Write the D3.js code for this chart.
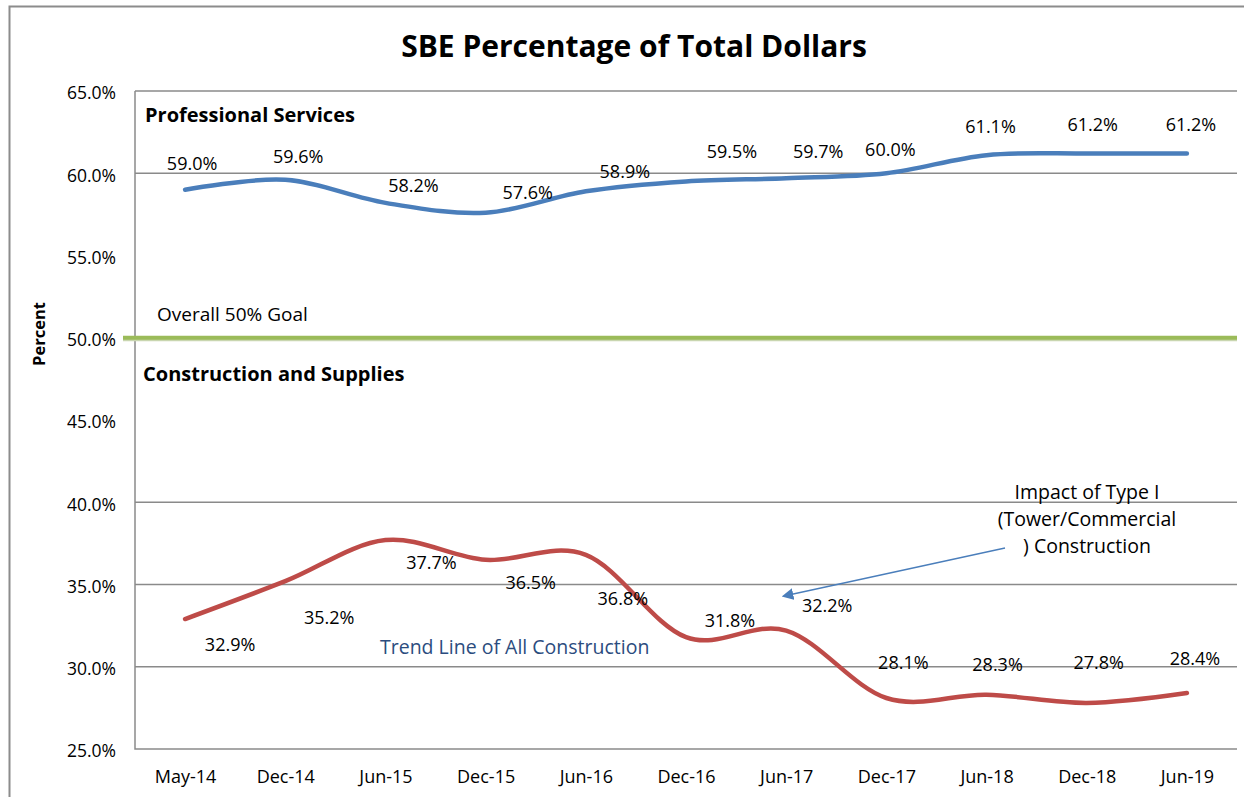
<!DOCTYPE html>
<html>
<head>
<meta charset="utf-8">
<script src="https://cdn.jsdelivr.net/npm/d3@7"></script>
<style>
  body { margin: 0; background: white; }
  text { font-family: "Open Sans", sans-serif; fill: #000; }
</style>
</head>
<body>
<div id="my_dataviz"></div>
<script>
// data
const months = ["May-14", "Dec-14", "Jun-15", "Dec-15", "Jun-16", "Dec-16", "Jun-17", "Dec-17", "Jun-18", "Dec-18", "Jun-19"]
const professional = [59.0, 59.6, 58.2, 57.6, 58.9, 59.5, 59.7, 60.0, 61.1, 61.2, 61.2]
const construction = [32.9, 35.2, 37.7, 36.5, 36.8, 31.8, 32.2, 28.1, 28.3, 27.8, 28.4]
const yTicks = [25, 30, 35, 40, 45, 50, 55, 60, 65]
const gridValues = [30, 35, 40, 60, 65]
const goal = 50

// label nudges (dx, dy) relative to each point, as placed in the original
const profLabelShift = [[7, -27], [13, -24], [28, -18], [42, -21], [39, -21], [46, -31], [32, -27], [4, -25], [4, -29], [6, -30], [4, -30]]
const consLabelShift = [[45, 25], [44, 35], [46, 22], [45, 22], [37, 43], [44, -17], [41, -26], [17, -36], [11, -31], [12, -41], [8, -35]]

// set the dimensions and margins of the graph
const width = 1254
const height = 797
const plot = { left: 135, right: 1237, top: 91, bottom: 749 }
const nudge = 2.5 // text sits a touch lower than the font's middle line

const svg = d3.select("#my_dataviz")
  .append("svg")
    .attr("width", width)
    .attr("height", height)

// outer chart frame (left and top edges are visible in the crop)
svg.append("path")
  .attr("d", `M9.5,${height} V6.5 H1244`)
  .attr("fill", "none")
  .attr("stroke", "#8c8c8c")
  .attr("stroke-width", 2)

const x = d3.scalePoint()
  .domain(months)
  .range([plot.left, plot.right])
  .padding(0.5)

const y = d3.scaleLinear()
  .domain([25, 65])
  .range([plot.bottom, plot.top])

// gridlines
svg.append("g")
  .selectAll("line")
  .data(gridValues)
  .join("line")
    .attr("x1", plot.left)
    .attr("x2", plot.right)
    .attr("y1", d => y(d))
    .attr("y2", d => y(d))
    .attr("stroke", "#8a8a8a")
    .attr("stroke-width", 1.5)

// axis lines
svg.append("path")
  .attr("d", `M${plot.left},${plot.top} V${plot.bottom} H${plot.right}`)
  .attr("fill", "none")
  .attr("stroke", "#8a8a8a")
  .attr("stroke-width", 1.5)

// y axis labels
const yAxis = d3.axisLeft(y)
  .tickValues(yTicks)
  .tickFormat(d => d3.format(".1f")(d) + "%")
  .tickSize(0)
  .tickPadding(19)
svg.append("g")
  .attr("transform", `translate(${plot.left},0)`)
  .call(yAxis)
  .call(g => g.select(".domain").remove())
  .selectAll("text")
    .attr("dy", "0.45em")
    .style("font-family", "Open Sans, sans-serif")
    .style("font-size", "17.5px")
    .attr("fill", "#000")

// x axis labels
const xAxis = d3.axisBottom(x).tickSize(0).tickPadding(21)
svg.append("g")
  .attr("transform", `translate(0,${plot.bottom})`)
  .call(xAxis)
  .call(g => g.select(".domain").remove())
  .selectAll("text")
    .style("font-family", "Open Sans, sans-serif")
    .style("font-size", "18px")
    .attr("fill", "#000")

// goal line
svg.append("line")
  .attr("x1", 123)
  .attr("x2", plot.right)
  .attr("y1", y(goal) + 1.5)
  .attr("y2", y(goal) + 1.5)
  .attr("stroke", "#c9d6b0")
  .attr("stroke-width", 4)
svg.append("line")
  .attr("x1", 123)
  .attr("x2", plot.right)
  .attr("y1", y(goal))
  .attr("y2", y(goal))
  .attr("stroke", "#9bbb59")
  .attr("stroke-width", 4)

// smoothed series lines
const line = d3.line()
  .x((d, i) => x(months[i]))
  .y(d => y(d))
  .curve(d3.curveCardinal.tension(0))

svg.append("path")
  .datum(professional)
  .attr("d", line)
  .attr("fill", "none")
  .attr("stroke", "#4a7ebb")
  .attr("stroke-width", 4.5)
  .attr("stroke-linecap", "round")

svg.append("path")
  .datum(construction)
  .attr("d", line)
  .attr("fill", "none")
  .attr("stroke", "#be4b48")
  .attr("stroke-width", 4.5)
  .attr("stroke-linecap", "round")

// data labels
const fmt = d => d3.format(".1f")(d) + "%"
svg.append("g")
  .selectAll("text")
  .data(professional)
  .join("text")
    .attr("x", (d, i) => x(months[i]) + profLabelShift[i][0])
    .attr("y", (d, i) => y(d) + profLabelShift[i][1] + nudge)
    .attr("text-anchor", "middle")
    .attr("dominant-baseline", "middle")
    .style("font-size", "18px")
    .text(fmt)

svg.append("g")
  .selectAll("text")
  .data(construction)
  .join("text")
    .attr("x", (d, i) => x(months[i]) + consLabelShift[i][0])
    .attr("y", (d, i) => y(d) + consLabelShift[i][1] + nudge)
    .attr("text-anchor", "middle")
    .attr("dominant-baseline", "middle")
    .style("font-size", "18px")
    .text(fmt)

// title
svg.append("text")
  .attr("x", 634)
  .attr("y", 46 + nudge)
  .attr("text-anchor", "middle")
  .attr("dominant-baseline", "middle")
  .style("font-size", "30px")
  .style("font-weight", "bold")
  .text("SBE Percentage of Total Dollars")

// y axis title
svg.append("text")
  .attr("transform", "translate(41,334) rotate(-90)")
  .attr("text-anchor", "middle")
  .attr("dominant-baseline", "middle")
  .style("font-size", "16.5px")
  .style("font-weight", "bold")
  .text("Percent")

// annotations
svg.append("text")
  .attr("x", 145).attr("y", 114 + nudge)
  .attr("dominant-baseline", "middle")
  .style("font-size", "20px").style("font-weight", "bold")
  .text("Professional Services")

svg.append("text")
  .attr("x", 143).attr("y", 373 + nudge)
  .attr("dominant-baseline", "middle")
  .style("font-size", "20px").style("font-weight", "bold")
  .text("Construction and Supplies")

svg.append("text")
  .attr("x", 157).attr("y", 313 + nudge)
  .attr("dominant-baseline", "middle")
  .style("font-size", "19px")
  .text("Overall 50% Goal")

svg.append("text")
  .attr("x", 380).attr("y", 646 + nudge)
  .attr("dominant-baseline", "middle")
  .style("font-size", "19.5px")
  .style("fill", "#2b4c7e")
  .text("Trend Line of All Construction")

const impact = svg.append("text")
  .attr("text-anchor", "middle")
  .style("font-size", "19.5px")
impact.selectAll("tspan")
  .data(["Impact of Type I", "(Tower/Commercial", ") Construction"])
  .join("tspan")
    .attr("x", 1087)
    .attr("y", (d, i) => 491 + nudge + i * 27)
    .attr("dominant-baseline", "middle")
    .text(d => d)

// arrow
svg.append("defs").append("marker")
  .attr("id", "arrow")
  .attr("viewBox", "0 0 10 10")
  .attr("refX", 8)
  .attr("refY", 5)
  .attr("markerWidth", 9)
  .attr("markerHeight", 9)
  .attr("orient", "auto")
  .append("path")
    .attr("d", "M0,0 L10,5 L0,10 z")
    .attr("fill", "#4a7ebb")

svg.append("line")
  .attr("x1", 1005).attr("y1", 548)
  .attr("x2", 784).attr("y2", 596)
  .attr("stroke", "#4a7ebb")
  .attr("stroke-width", 1.3)
  .attr("marker-end", "url(#arrow)")
</script>
</body>
</html>
